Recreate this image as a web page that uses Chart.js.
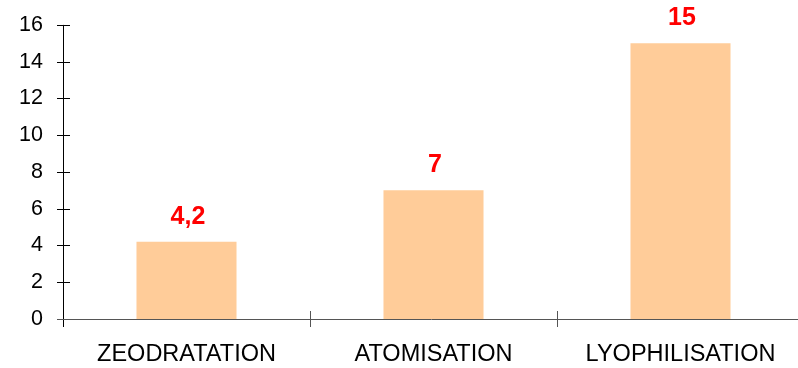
<!DOCTYPE html>
<html lang="fr">
<head>
    <meta charset="UTF-8">
    <title>Procédés</title>
    <script src="https://cdn.jsdelivr.net/npm/chart.js"></script>
    <style>
        html, body {
            margin: 0;
            padding: 0;
            overflow: hidden;
            background: #fff;
        }
        .conter {
            width: 806px;
            height: 368px;
        }
    </style>
</head>
<body>

<div class="conter">
    <canvas id="procedeChart"></canvas>
</div>

<script>
    // data
    var categories = ['ZEODRATATION', 'ATOMISATION', 'LYOPHILISATION'];
    var values = [4.2, 7, 15];
    var yTicks = [0, 2, 4, 6, 8, 10, 12, 14, 16];

    var font = 'Liberation Sans, Arial, sans-serif';

    // axes with ticks crossing the lines + red value labels
    var axesPlugin = {
        id: 'axesPlugin',
        afterDatasetsDraw: function(chart) {
            var ctx = chart.ctx;
            var xs = chart.scales.x;
            var ys = chart.scales.y;
            var area = chart.chartArea;
            var y0 = ys.getPixelForValue(0);
            var yTop = ys.getPixelForValue(16);

            ctx.save();
            // y axis
            ctx.strokeStyle = '#000';
            ctx.lineWidth = 1;
            ctx.beginPath();
            ctx.moveTo(area.left + 0.5, yTop);
            ctx.lineTo(area.left + 0.5, y0 + 8);
            yTicks.forEach(function(t) {
                var py = Math.round(ys.getPixelForValue(t)) + 0.5;
                ctx.moveTo(area.left - 6, py);
                ctx.lineTo(area.left + 7, py);
            });
            ctx.stroke();

            // x axis
            ctx.strokeStyle = '#555';
            ctx.beginPath();
            ctx.moveTo(area.left - 6, Math.round(y0) + 0.5);
            ctx.lineTo(chart.width, Math.round(y0) + 0.5);
            for (var i = 1; i < categories.length; i++) {
                var px = Math.round((xs.getPixelForValue(i - 1) + xs.getPixelForValue(i)) / 2) + 0.5;
                ctx.moveTo(px, y0 - 8);
                ctx.lineTo(px, y0 + 8);
            }
            ctx.stroke();

            // value labels
            ctx.fillStyle = '#ff0000';
            ctx.font = 'bold 25px ' + font;
            ctx.textAlign = 'center';
            ctx.textBaseline = 'alphabetic';
            chart.getDatasetMeta(0).data.forEach(function(bar, i) {
                var txt = String(values[i]).replace('.', ',');
                ctx.fillText(txt, bar.x + 1.5, bar.y - 18);
            });
            ctx.restore();
        }
    };

    var ctx = document.getElementById('procedeChart').getContext('2d');
    new Chart(ctx, {
        type: 'bar',
        data: {
            labels: categories,
            datasets: [{
                data: values,
                backgroundColor: '#ffcc99',
                borderWidth: 0,
                barPercentage: 0.405,
                categoryPercentage: 1
            }]
        },
        options: {
            responsive: true,
            maintainAspectRatio: false,
            animation: false,
            layout: {
                padding: { top: 20, right: 2, left: 0, bottom: 0 }
            },
            plugins: {
                legend: { display: false },
                tooltip: { enabled: false }
            },
            scales: {
                x: {
                    offset: true,
                    grid: { display: false },
                    border: { display: false },
                    ticks: {
                        color: '#000',
                        font: { size: 23.5, family: font },
                        padding: 13,
                        maxRotation: 0
                    },
                    afterFit: function(scale) { scale.height = 49; }
                },
                y: {
                    min: 0,
                    max: 16,
                    grid: { display: false },
                    border: { display: false },
                    afterBuildTicks: function(scale) {
                        scale.ticks = yTicks.map(function(v) { return { value: v }; });
                    },
                    ticks: {
                        color: '#000',
                        font: { size: 21.5, family: font },
                        padding: 12
                    },
                    afterFit: function(scale) { scale.width = 63; }
                }
            }
        },
        plugins: [axesPlugin]
    });
</script>

</body>
</html>
